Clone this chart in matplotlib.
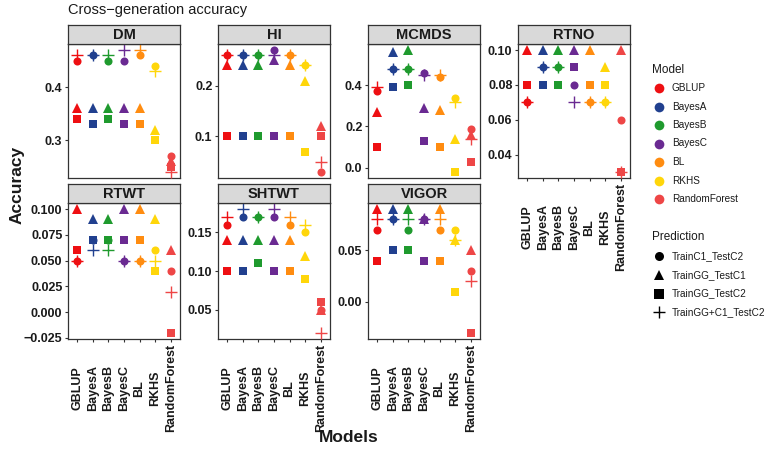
import matplotlib
matplotlib.use("Agg")
import matplotlib.pyplot as plt
from matplotlib.lines import Line2D
import numpy as np

plt.rcParams['font.family'] = ['Liberation Sans', 'DejaVu Sans']

# ---------------- data ----------------
models = ["GBLUP", "BayesA", "BayesB", "BayesC", "BL", "RKHS", "RandomForest"]
traits = ["DM", "HI", "MCMDS", "RTNO", "RTWT", "SHTWT", "VIGOR"]
predictions = ["TrainC1_TestC2", "TrainGG_TestC1", "TrainGG_TestC2", "TrainGG+C1_TestC2"]

# rows: TrainC1_TestC2, TrainGG_TestC1, TrainGG_TestC2, TrainGG+C1_TestC2
DM = [[0.45, 0.46, 0.45, 0.45, 0.46, 0.44, 0.27],
      [0.36, 0.36, 0.36, 0.36, 0.36, 0.32, 0.26],
      [0.34, 0.33, 0.34, 0.33, 0.33, 0.30, 0.25],
      [0.46, 0.46, 0.46, 0.47, 0.47, 0.43, 0.24]]
HI = [[0.26, 0.26, 0.26, 0.27, 0.26, 0.24, 0.03],
      [0.24, 0.24, 0.24, 0.25, 0.24, 0.21, 0.12],
      [0.10, 0.10, 0.10, 0.10, 0.10, 0.07, 0.10],
      [0.26, 0.26, 0.26, 0.26, 0.26, 0.24, 0.05]]
MCMDS = [[0.37, 0.48, 0.48, 0.46, 0.44, 0.34, 0.19],
         [0.27, 0.56, 0.57, 0.29, 0.28, 0.14, 0.16],
         [0.10, 0.39, 0.40, 0.13, 0.10, -0.02, 0.03],
         [0.39, 0.48, 0.48, 0.45, 0.45, 0.32, 0.14]]
RTNO = [[0.07, 0.09, 0.09, 0.08, 0.07, 0.07, 0.06],
        [0.10, 0.10, 0.10, 0.10, 0.10, 0.09, 0.10],
        [0.08, 0.08, 0.08, 0.09, 0.08, 0.08, 0.03],
        [0.07, 0.09, 0.09, 0.07, 0.07, 0.07, 0.03]]
RTWT = [[0.05, 0.07, 0.07, 0.05, 0.05, 0.06, 0.04],
        [0.10, 0.09, 0.09, 0.10, 0.10, 0.09, 0.06],
        [0.06, 0.07, 0.07, 0.07, 0.07, 0.04, -0.02],
        [0.05, 0.06, 0.06, 0.05, 0.05, 0.05, 0.02]]
SHTWT = [[0.16, 0.17, 0.17, 0.17, 0.16, 0.15, 0.05],
         [0.14, 0.14, 0.14, 0.14, 0.14, 0.12, 0.05],
         [0.10, 0.10, 0.11, 0.10, 0.10, 0.09, 0.06],
         [0.17, 0.18, 0.17, 0.18, 0.17, 0.16, 0.02]]
VIGOR = [[0.07, 0.08, 0.07, 0.08, 0.07, 0.07, 0.03],
         [0.09, 0.09, 0.09, 0.08, 0.09, 0.06, 0.05],
         [0.04, 0.05, 0.05, 0.04, 0.04, 0.01, -0.03],
         [0.08, 0.08, 0.08, 0.08, 0.08, 0.06, 0.02]]

DM_ticks = ["0.3", "0.4"]
HI_ticks = ["0.1", "0.2"]
MCMDS_ticks = ["0.0", "0.2", "0.4"]
RTNO_ticks = ["0.04", "0.06", "0.08", "0.10"]
RTWT_ticks = ["-0.025", "0.000", "0.025", "0.050", "0.075", "0.100"]
SHTWT_ticks = ["0.05", "0.10", "0.15"]
VIGOR_ticks = ["0.00", "0.05"]

# ---------------- styles ----------------
model_colors = ["#EE0F12", "#21408F", "#1F9A2E", "#6A2A92", "#FF8C10", "#FFD60A", "#EE4646"]
pred_markers = ["o", "^", "s", "+"]
pred_sizes = [5.8, 6.6, 5.6, 8.5]

trait_data = {"DM": DM, "HI": HI, "MCMDS": MCMDS, "RTNO": RTNO,
              "RTWT": RTWT, "SHTWT": SHTWT, "VIGOR": VIGOR}
trait_ticks = {"DM": DM_ticks, "HI": HI_ticks, "MCMDS": MCMDS_ticks, "RTNO": RTNO_ticks,
               "RTWT": RTWT_ticks, "SHTWT": SHTWT_ticks, "VIGOR": VIGOR_ticks}

W, H = 764, 458
fig = plt.figure(figsize=(W / 100, H / 100), dpi=100)

col_left = [68, 218, 368, 518]
pw = 112
rows = [(44, 178, 25), (203, 339, 184)]  # panel top, panel bottom, strip top
positions = {"DM": (0, 0), "HI": (0, 1), "MCMDS": (0, 2), "RTNO": (0, 3),
             "RTWT": (1, 0), "SHTWT": (1, 1), "VIGOR": (1, 2)}
show_x = {"RTNO", "RTWT", "SHTWT", "VIGOR"}

edge = "#333333"
x = np.arange(1, len(models) + 1)

for t in traits:
    r, c = positions[t]
    top, bot, stop = rows[r]
    l = col_left[c]
    ax = fig.add_axes([l / W, 1 - bot / H, pw / W, (bot - top) / H])
    data = np.array(trait_data[t], dtype=float)
    for pi in range(len(predictions)):
        for mi in range(len(models)):
            if pred_markers[pi] == "+":
                ax.plot(x[mi], data[pi, mi], marker="+", ms=pred_sizes[pi], mew=1.0,
                        color=model_colors[mi], ls="none", zorder=3 + pi)
            else:
                ax.plot(x[mi], data[pi, mi], marker=pred_markers[pi], ms=pred_sizes[pi],
                        mew=0, color=model_colors[mi], ls="none", zorder=3 + pi)
    lo, hi = data.min(), data.max()
    pad = (hi - lo) * 0.05
    ax.set_ylim(lo - pad, hi + pad)
    ax.set_xlim(0.4, len(models) + 0.6)
    labs = trait_ticks[t]
    ax.set_yticks([float(v) for v in labs])
    ax.set_yticklabels([v.replace("-", "\u2212") for v in labs], fontsize=9,
                       fontweight="bold", color="#1a1a1a")
    ax.tick_params(axis="y", length=2.5, width=0.8, color=edge, pad=1.5)
    ax.set_xticks(x)
    if t in show_x:
        ax.set_xticklabels(models, rotation=90, va="center", fontsize=9,
                           fontweight="bold", color="#1a1a1a")
        ax.tick_params(axis="x", length=2.5, width=0.8, color=edge, pad=33.0)
    else:
        ax.tick_params(axis="x", bottom=False, labelbottom=False)
    for s in ax.spines.values():
        s.set_color(edge)
        s.set_linewidth(0.9)
    # strip
    sax = fig.add_axes([l / W, 1 - top / H, pw / W, (top - stop) / H])
    sax.set_facecolor("#D9D9D9")
    sax.set_xticks([])
    sax.set_yticks([])
    for s in sax.spines.values():
        s.set_color(edge)
        s.set_linewidth(0.9)
    sax.text(0.5, 0.48, t, transform=sax.transAxes, ha="center", va="center",
             fontsize=10.5, fontweight="bold", color="#1a1a1a")

# titles / axis labels
fig.text(68 / W, 1 - 10 / H, "Cross\u2212generation accuracy", fontsize=10.5,
         ha="left", va="center", color="#1a1a1a")
fig.text(17 / W, 1 - 185 / H, "Accuracy", rotation=90, fontsize=12.5,
         fontweight="bold", ha="center", va="center", color="#1a1a1a")
fig.text(349 / W, 1 - 438 / H, "Models", fontsize=12.5, fontweight="bold",
         ha="center", va="center", color="#1a1a1a")

# legends
lx_mark = 659
lx_text = 672
fig.text(652 / W, 1 - 70 / H, "Model", fontsize=8.5, ha="left", va="center", color="#1a1a1a")
for i, m in enumerate(models):
    yy = 88 + i * 18.5
    fig.lines.append(Line2D([lx_mark / W], [1 - yy / H], marker="o", ms=7, mew=0,
                            color=model_colors[i], ls="none", transform=fig.transFigure))
    fig.text(lx_text / W, 1 - yy / H, m, fontsize=7.2, ha="left", va="center", color="#1a1a1a")

fig.text(652 / W, 1 - 237 / H, "Prediction", fontsize=8.5, ha="left", va="center", color="#1a1a1a")
for i, p in enumerate(predictions):
    yy = 256 + i * 18.8
    if pred_markers[i] == "+":
        fig.lines.append(Line2D([lx_mark / W], [1 - yy / H], marker="+", ms=9, mew=1.0,
                                color="black", ls="none", transform=fig.transFigure))
    else:
        fig.lines.append(Line2D([lx_mark / W], [1 - yy / H], marker=pred_markers[i],
                                ms=6.5, mew=0, color="black", ls="none",
                                transform=fig.transFigure))
    fig.text(lx_text / W, 1 - yy / H, p, fontsize=7.2, ha="left", va="center", color="#1a1a1a")

fig.savefig("out.png", dpi=100)
